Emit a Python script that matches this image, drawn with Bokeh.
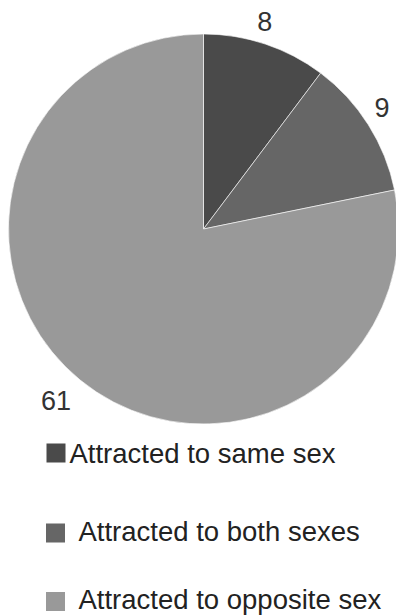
import math
from bokeh.plotting import figure
from bokeh.models import Range1d, ColumnDataSource
from bokeh.core.properties import value
from bokeh.embed import file_html
from bokeh.resources import INLINE

# ---- data ----
categories = ["Attracted to same sex", "Attracted to both sexes", "Attracted to opposite sex"]
counts = [8, 9, 61]
colors = ["#4a4a4a", "#666666", "#999999"]

W, H = 396, 615
FONT = "Liberation Sans"
TEXT_COLOR = "#333333"

p = figure(width=W, height=H, output_backend="svg", toolbar_location=None,
           x_range=Range1d(0, W), y_range=Range1d(0, H), min_border=0)
p.axis.visible = False
p.grid.visible = False
p.outline_line_color = None
p.background_fill_color = "white"
p.border_fill_color = "white"

# pie geometry (pixels, y measured from top -> convert)
cx, cy_top, R = 203, 228.5, 195
cy = H - cy_top
total = sum(counts)
starts, ends, mids = [], [], []
cum = 0
for c in counts:
    a0 = math.pi / 2 - 2 * math.pi * cum / total
    cum += c
    a1 = math.pi / 2 - 2 * math.pi * cum / total
    starts.append(a0)
    ends.append(a1)
    mids.append((a0 + a1) / 2)

src = ColumnDataSource(dict(start=starts, end=ends, color=colors, cat=categories, n=counts))
p.wedge(x=cx, y=cy, radius=R, start_angle="start", end_angle="end", direction="clock",
        fill_color="color", line_color="white", line_width=0.6, source=src)

# data labels (outside end)
lx, ly = [], []
for m in mids:
    right = math.cos(m) > 0
    rl = 216 if right else 226
    a = m + (0.035 if right else -0.026)
    lx.append(cx + rl * math.cos(a))
    ly.append(cy + rl * math.sin(a))
p.text(x=lx, y=ly, text=[str(c) for c in counts], text_align="center", text_baseline="middle",
       text_font=value(FONT), text_font_size="27px", text_color=TEXT_COLOR)

# legend (manual, vertical)
sq_x = [55.5, 55, 55]
sq_y = [452.5, 532.5, 601]
tx = [69, 78, 78]
tm = [453, 530.5, 598.5]
p.rect(x=sq_x, y=[H - v for v in sq_y], width=19, height=19, fill_color=colors, line_color=None)
p.text(x=tx, y=[H - v for v in tm], text=categories, text_align="left", text_baseline="middle",
       text_font=value(FONT), text_font_size="27.5px", text_color="#222222")

open("out.html", "w").write(file_html(p, INLINE))
